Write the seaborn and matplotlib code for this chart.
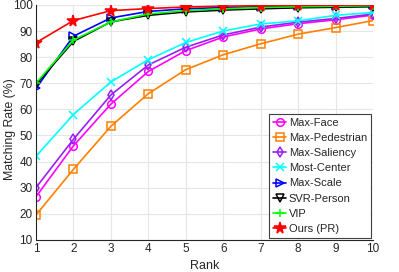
import numpy as np
import pandas as pd
import matplotlib
matplotlib.use("Agg")
import matplotlib.pyplot as plt
import seaborn as sns

ranks = list(range(1, 11))
max_face = [26.5, 46, 62, 74.5, 82.5, 87.7, 90.8, 92.8, 94.3, 96.1]
max_pedestrian = [19.5, 37, 53.5, 66, 75.2, 80.9, 85.1, 88.8, 91.3, 94.0]
max_saliency = [30, 48.5, 65.5, 77, 83.8, 88.5, 91.5, 93.4, 94.8, 96.5]
most_center = [42, 58, 70.5, 79, 85.6, 90.0, 92.7, 93.9, 96.0, 97.1]
max_scale = [68, 88, 95, 97.5, 98.5, 99.0, 99.3, 99.5, 99.7, 99.8]
svr_person = [69.5, 86, 93.5, 96, 97.3, 98.0, 98.5, 98.9, 99.1, 99.3]
vip = [70, 86.5, 93.5, 96.5, 97.8, 98.5, 99.0, 99.3, 99.5, 99.7]
ours = [85.5, 94, 97.8, 98.6, 99.2, 99.5, 99.7, 99.8, 99.9, 100]

series = [
    ("Max-Face", max_face, "#ff00ff", "o", True),
    ("Max-Pedestrian", max_pedestrian, "#ff8000", "s", True),
    ("Max-Saliency", max_saliency, "#9a1ff5", "d", True),
    ("Most-Center", most_center, "#00ffff", "x", True),
    ("Max-Scale", max_scale, "#0000ff", ">", True),
    ("SVR-Person", svr_person, "#000000", "v", True),
    ("VIP", vip, "#00ff00", "+", True),
    ("Ours (PR)", ours, "#ff0000", "*", False),
]

sns.set_style("whitegrid")
plt.rcParams['font.family'] = ['Liberation Sans', 'DejaVu Sans']

fig = plt.figure(figsize=(3.99, 2.72), dpi=100)
ax = fig.add_axes([0.09, 0.118, 0.845, 0.864])

for name, vals, color, marker, hollow in series:
    df = pd.DataFrame({"Rank": ranks, "Rate": vals})
    kw = dict(markerfacecolor="none") if hollow else dict(markerfacecolor=color)
    sns.lineplot(data=df, x="Rank", y="Rate", ax=ax, color=color, marker=marker,
                 markersize=5.5 if marker != "*" else 8.5, markeredgecolor=color,
                 markeredgewidth=1.1, linewidth=1.2, label=name, **kw)

ax.set_xlim(1, 10)
ax.set_ylim(10, 100)
ax.set_xticks(ranks)
ax.set_yticks(range(10, 101, 10))
ax.tick_params(labelsize=8.5, colors="#262626", length=0, pad=2.5)
ax.set_xlabel("Rank", fontsize=9, color="#262626", labelpad=3)
ax.set_ylabel("Matching Rate (%)", fontsize=8.8, color="#262626")
ax.yaxis.set_label_coords(-0.06, 0.47)
ax.grid(True, color="#e6e6e6", linewidth=0.8)
for side in ["top", "right"]:
    ax.spines[side].set_visible(False)
for side in ["left", "bottom"]:
    ax.spines[side].set_color("#262626")
    ax.spines[side].set_linewidth(0.8)

leg = ax.legend(loc="lower right", fontsize=8, frameon=True, fancybox=False,
                borderaxespad=0.2, handlelength=1.2, handletextpad=0.2,
                labelspacing=0.46, borderpad=0.35)
leg.get_frame().set_edgecolor("#404040")
leg.get_frame().set_linewidth(0.8)
leg.get_frame().set_alpha(1)

fig.savefig("out.png", dpi=100)
